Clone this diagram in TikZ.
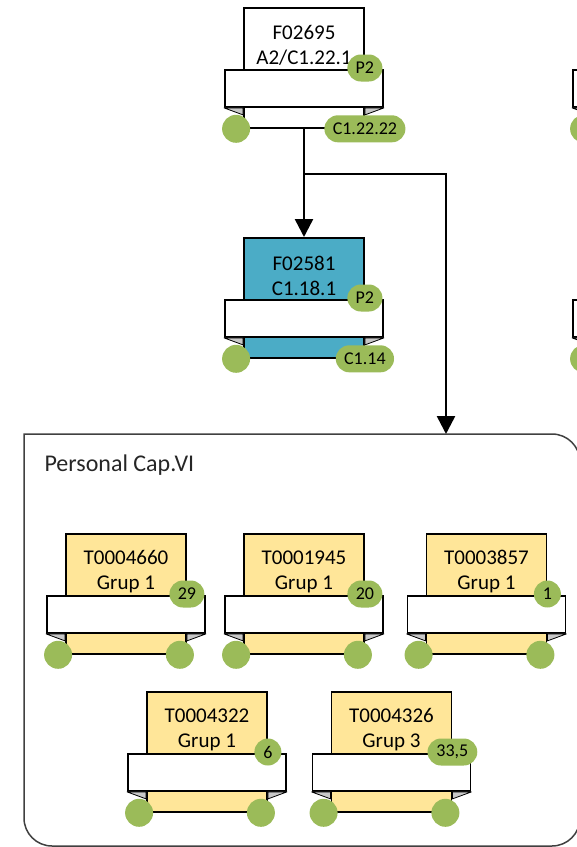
\documentclass[tikz,border=0pt]{standalone}
\usepackage{fontspec}
\setmainfont{Carlito}
\usetikzlibrary{arrows.meta,calc,shapes.misc}

\definecolor{cardgreen}{HTML}{9BBB59}
\definecolor{cardblue}{HTML}{4BACC6}
\definecolor{cardyellow}{HTML}{FFE699}
\definecolor{foldgray}{HTML}{C8C8C8}
\definecolor{groupgray}{HTML}{404040}
\definecolor{titlegray}{HTML}{262626}

\begin{document}
\begin{tikzpicture}[
  x=1pt, y=-1pt,
  flow/.style={line width=2.5pt, -{Triangle[length=18pt,width=18pt]}},
  cardbody/.style={draw, line width=1.8pt, minimum width=120pt, minimum height=120pt, inner sep=0pt},
  ribbon/.style={draw, fill=white, line width=1.8pt, minimum width=158pt, minimum height=37pt, inner sep=0pt},
  fold/.style={fill=foldgray, draw, line width=0.8pt, line join=round},
  cardtext/.style={align=center, font=\fontsize{21pt}{25pt}\selectfont},
  badge/.style={rounded rectangle, fill=cardgreen, minimum height=27pt, minimum width=28pt, inner xsep=7pt, inner ysep=0pt, font=\fontsize{18pt}{20pt}\selectfont},
  dot/.style={circle, fill=cardgreen, minimum size=28pt, inner sep=0pt, xshift=-7pt},
  groupline/.style={draw=groupgray, line width=1.5pt, line cap=rect, rounded corners=28pt},
  grouptitle/.style={anchor=base west, text=titlegray, font=\fontsize{24pt}{28pt}\selectfont}
]
\useasboundingbox (0,0) rectangle (577,847);

% ----- card: name, x, top, fill, text, badge, corner style, corner text
\def\card#1#2#3#4#5#6#7#8{%
  \node[cardbody, fill=#4, anchor=north] (#1) at (#2,#3) {};
  \node[ribbon] (#1-rib) at ($(#1.north)+(0,81.5)$) {};
  \filldraw[fold] (#1-rib.south west) -- (#1.west |- #1-rib.south) -- ++(0,7) -- cycle;
  \filldraw[fold] (#1-rib.south east) -- (#1.east |- #1-rib.south) -- ++(0,7) -- cycle;
  \node[cardtext] (#1-txt) at ($(#1.north)+(0,38.5)$) {#5};
  \node[badge] (#1-nr) at ($(#1.north east)+(0,61)$) {#6};
  \node[dot] (#1-in) at (#1.south west) {};
  \node[#7] (#1-out) at (#1.south east) {#8};
}

% ----- Group frame (top left corner stays sharp)
\draw[groupline] (24,434) -- (580,434) -- (580,846) -- (24,846) -- (24,434);
\node[grouptitle] (capVI-title) at (41,471) {Personal Cap.VI};
\coordinate (capVI-in) at (446,434);

% ----- Upper chain
\card{f02695}{304}{7}{white}{F02695\\A2/C1.22.1}{P2}{badge}{C1.22.22}
\card{f02581}{304}{237}{cardblue}{F02581\\C1.18.1}{P2}{badge}{C1.14}

% ----- Cut at the right border
\card{next1}{652}{7}{white}{}{}{dot}{}
\card{next2}{652}{237}{white}{}{}{dot}{}

% ----- Personal Cap.VI, first row
\card{t4660}{126}{533}{cardyellow}{T0004660\\Grup 1}{29}{dot}{}
\card{t1945}{304}{533}{cardyellow}{T0001945\\Grup 1}{20}{dot}{}
\card{t3857}{486.5}{533}{cardyellow}{T0003857\\Grup 1}{1}{dot}{}

% ----- second row
\card{t4322}{207}{691}{cardyellow}{T0004322\\Grup 1}{6}{dot}{}
\card{t4326}{391.5}{691}{cardyellow}{T0004326\\Grup 3}{33,5}{dot}{}

% ----- Connectors
\coordinate (split) at (304,174);
\draw[flow] (f02695.south) -- (f02581.north);
\draw[flow] (split) -| (capVI-in);

\end{tikzpicture}
\end{document}
